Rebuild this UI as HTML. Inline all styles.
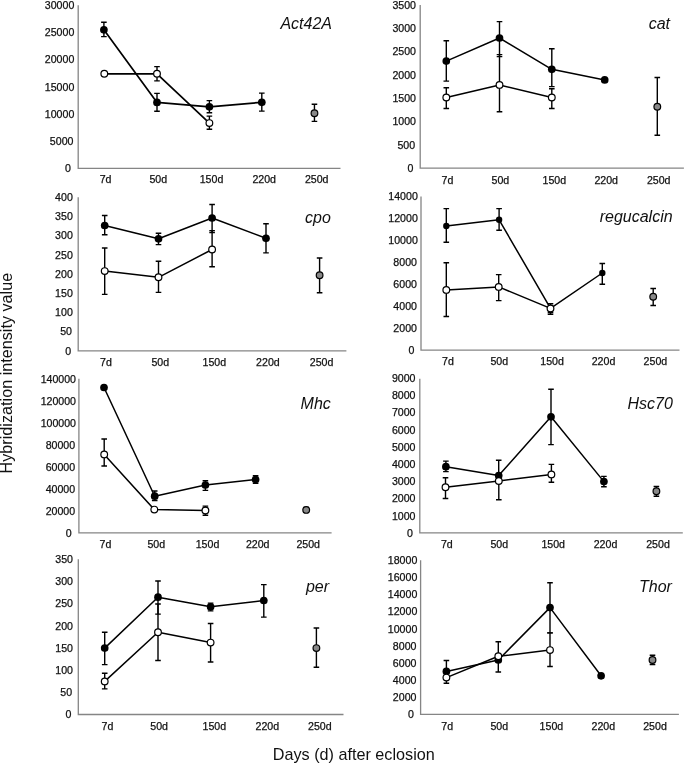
<!DOCTYPE html>
<html><head><meta charset="utf-8"><style>
html,body{margin:0;padding:0;background:#fff;}
svg{display:block;will-change:transform;}
text{font-family:"Liberation Sans",sans-serif;fill:#111;}
.t{font-size:10.6px;stroke:#111;stroke-width:0.25px;}
.g{font-size:16px;font-style:italic;}
.ti{font-size:16.2px;}
</style></head><body>
<svg width="685" height="765" viewBox="0 0 685 765">
<rect width="685" height="765" fill="#fff"/>
<g><path d="M78.2 5.3V168.4H340.5" fill="none" stroke="#858585" stroke-width="1.3"/><text class="t" x="74.3" y="9.06" text-anchor="end">30000</text><text class="t" x="74.3" y="36.25" text-anchor="end">25000</text><text class="t" x="74.3" y="63.43" text-anchor="end">20000</text><text class="t" x="74.3" y="90.61" text-anchor="end">15000</text><text class="t" x="74.3" y="117.8" text-anchor="end">10000</text><text class="t" x="73.45" y="144.98" text-anchor="end">5000</text><text class="t" x="70.9" y="172.16" text-anchor="end">0</text><text class="t" x="105.6" y="183.1" text-anchor="middle">7d</text><text class="t" x="158.3" y="183.1" text-anchor="middle">50d</text><text class="t" x="211.5" y="183.1" text-anchor="middle">150d</text><text class="t" x="264.2" y="183.1" text-anchor="middle">220d</text><text class="t" x="316.7" y="183.1" text-anchor="middle">250d</text><polyline points="103.9,29.8 157,102.4 209.4,106.8 261.8,102.3" fill="none" stroke="#000" stroke-width="1.7" stroke-linejoin="round"/><path d="M103.9 29.8V22.3M101.1 22.3h5.6M103.9 29.8V36.6M101.1 36.6h5.6M157 102.4V93.4M154.2 93.4h5.6M157 102.4V111.2M154.2 111.2h5.6M209.4 106.8V100.6M206.6 100.6h5.6M209.4 106.8V112.8M206.6 112.8h5.6M261.8 102.3V93.1M259 93.1h5.6M261.8 102.3V111.1M259 111.1h5.6" fill="none" stroke="#000" stroke-width="1.4"/><circle cx="103.9" cy="29.8" r="3.85" fill="#000"/><circle cx="157" cy="102.4" r="3.85" fill="#000"/><circle cx="209.4" cy="106.8" r="3.85" fill="#000"/><circle cx="261.8" cy="102.3" r="3.85" fill="#000"/><polyline points="104.3,73.8 157,73.8 209.4,123.1" fill="none" stroke="#000" stroke-width="1.7" stroke-linejoin="round"/><path d="M157 73.8V66.6M154.2 66.6h5.6M157 73.8V80.9M154.2 80.9h5.6M209.4 123.1V116.1M206.6 116.1h5.6M209.4 123.1V129.3M206.6 129.3h5.6" fill="none" stroke="#000" stroke-width="1.4"/><circle cx="104.3" cy="73.8" r="3.35" fill="#fff" stroke="#000" stroke-width="1.2"/><circle cx="157" cy="73.8" r="3.35" fill="#fff" stroke="#000" stroke-width="1.2"/><circle cx="209.4" cy="123.1" r="3.35" fill="#fff" stroke="#000" stroke-width="1.2"/><path d="M314.45 113.2V104.2M311.65 104.2h5.6M314.45 113.2V121.4M311.65 121.4h5.6" fill="none" stroke="#000" stroke-width="1.4"/><circle cx="314.45" cy="113.2" r="3.35" fill="#888" stroke="#000" stroke-width="1.2"/><text class="g" x="332" y="28.8" text-anchor="end">Act42A</text></g>
<g><path d="M420.2 4.9V168.2H683.9" fill="none" stroke="#858585" stroke-width="1.3"/><text class="t" x="416" y="8.66" text-anchor="end">3500</text><text class="t" x="416" y="31.99" text-anchor="end">3000</text><text class="t" x="416" y="55.32" text-anchor="end">2500</text><text class="t" x="416" y="78.65" text-anchor="end">2000</text><text class="t" x="416" y="101.98" text-anchor="end">1500</text><text class="t" x="416" y="125.31" text-anchor="end">1000</text><text class="t" x="415.15" y="148.63" text-anchor="end">500</text><text class="t" x="413.45" y="171.96" text-anchor="end">0</text><text class="t" x="447.4" y="183.5" text-anchor="middle">7d</text><text class="t" x="500.4" y="183.5" text-anchor="middle">50d</text><text class="t" x="554.3" y="183.5" text-anchor="middle">150d</text><text class="t" x="606.2" y="183.5" text-anchor="middle">220d</text><text class="t" x="658.7" y="183.5" text-anchor="middle">250d</text><polyline points="446.3,61.1 499.5,38 551.8,69.3 604.7,79.9" fill="none" stroke="#000" stroke-width="1.5" stroke-linejoin="round"/><path d="M446.3 61.1V40.7M443.5 40.7h5.6M446.3 61.1V81.1M443.5 81.1h5.6M499.5 38V21.6M496.7 21.6h5.6M499.5 38V56.6M496.7 56.6h5.6M551.8 69.3V48.8M549 48.8h5.6M551.8 69.3V86.6M549 86.6h5.6" fill="none" stroke="#000" stroke-width="1.4"/><circle cx="446.3" cy="61.1" r="3.85" fill="#000"/><circle cx="499.5" cy="38" r="3.85" fill="#000"/><circle cx="551.8" cy="69.3" r="3.85" fill="#000"/><circle cx="604.7" cy="79.9" r="3.85" fill="#000"/><polyline points="446.3,97.5 499.5,84.9 551.8,97.5" fill="none" stroke="#000" stroke-width="1.5" stroke-linejoin="round"/><path d="M446.3 97.5V87.7M443.5 87.7h5.6M446.3 97.5V108.5M443.5 108.5h5.6M499.5 84.9V54.6M496.7 54.6h5.6M499.5 84.9V111.8M496.7 111.8h5.6M551.8 97.5V88.7M549 88.7h5.6M551.8 97.5V108.5M549 108.5h5.6" fill="none" stroke="#000" stroke-width="1.4"/><circle cx="446.3" cy="97.5" r="3.35" fill="#fff" stroke="#000" stroke-width="1.2"/><circle cx="499.5" cy="84.9" r="3.35" fill="#fff" stroke="#000" stroke-width="1.2"/><circle cx="551.8" cy="97.5" r="3.35" fill="#fff" stroke="#000" stroke-width="1.2"/><path d="M657.3 106.7V77.5M654.5 77.5h5.6M657.3 106.7V135.2M654.5 135.2h5.6" fill="none" stroke="#000" stroke-width="1.4"/><circle cx="657.3" cy="106.7" r="3.35" fill="#888" stroke="#000" stroke-width="1.2"/><text class="g" x="670" y="28.8" text-anchor="end">cat</text></g>
<g><path d="M78.2 197.3V350.9H346.4" fill="none" stroke="#858585" stroke-width="1.3"/><text class="t" x="72.8" y="201.06" text-anchor="end">400</text><text class="t" x="72.8" y="220.26" text-anchor="end">350</text><text class="t" x="72.8" y="239.46" text-anchor="end">300</text><text class="t" x="72.8" y="258.66" text-anchor="end">250</text><text class="t" x="72.8" y="277.86" text-anchor="end">200</text><text class="t" x="72.8" y="297.06" text-anchor="end">150</text><text class="t" x="72.8" y="316.26" text-anchor="end">100</text><text class="t" x="71.95" y="335.46" text-anchor="end">50</text><text class="t" x="71.1" y="354.66" text-anchor="end">0</text><text class="t" x="106" y="366.4" text-anchor="middle">7d</text><text class="t" x="160.3" y="366.4" text-anchor="middle">50d</text><text class="t" x="214.3" y="366.4" text-anchor="middle">150d</text><text class="t" x="267.9" y="366.4" text-anchor="middle">220d</text><text class="t" x="321.6" y="366.4" text-anchor="middle">250d</text><polyline points="104.7,225.5 158.5,238.8 212.1,218 266,238.3" fill="none" stroke="#000" stroke-width="1.5" stroke-linejoin="round"/><path d="M104.7 225.5V215.5M101.9 215.5h5.6M104.7 225.5V234.7M101.9 234.7h5.6M158.5 238.8V233.3M155.7 233.3h5.6M158.5 238.8V244.6M155.7 244.6h5.6M212.1 218V204.5M209.3 204.5h5.6M212.1 218V232.5M209.3 232.5h5.6M266 238.3V223.7M263.2 223.7h5.6M266 238.3V252.9M263.2 252.9h5.6" fill="none" stroke="#000" stroke-width="1.4"/><circle cx="104.7" cy="225.5" r="3.85" fill="#000"/><circle cx="158.5" cy="238.8" r="3.85" fill="#000"/><circle cx="212.1" cy="218" r="3.85" fill="#000"/><circle cx="266" cy="238.3" r="3.85" fill="#000"/><polyline points="104.7,271.1 158.5,277.3 212.1,249.5" fill="none" stroke="#000" stroke-width="1.5" stroke-linejoin="round"/><path d="M104.7 271.1V248M101.9 248h5.6M104.7 271.1V294.4M101.9 294.4h5.6M158.5 277.3V261.3M155.7 261.3h5.6M158.5 277.3V292.4M155.7 292.4h5.6M212.1 249.5V230.6M209.3 230.6h5.6M212.1 249.5V266.8M209.3 266.8h5.6" fill="none" stroke="#000" stroke-width="1.4"/><circle cx="104.7" cy="271.1" r="3.35" fill="#fff" stroke="#000" stroke-width="1.2"/><circle cx="158.5" cy="277.3" r="3.35" fill="#fff" stroke="#000" stroke-width="1.2"/><circle cx="212.1" cy="249.5" r="3.35" fill="#fff" stroke="#000" stroke-width="1.2"/><path d="M319.6 275.2V258M316.8 258h5.6M319.6 275.2V292.7M316.8 292.7h5.6" fill="none" stroke="#000" stroke-width="1.4"/><circle cx="319.6" cy="275.2" r="3.35" fill="#888" stroke="#000" stroke-width="1.2"/><text class="g" x="330.8" y="222.8" text-anchor="end">cpo</text></g>
<g><path d="M421 196.6V350.2H679.5" fill="none" stroke="#858585" stroke-width="1.3"/><text class="t" x="417.8" y="200.36" text-anchor="end">14000</text><text class="t" x="417.8" y="222.31" text-anchor="end">12000</text><text class="t" x="417.8" y="244.25" text-anchor="end">10000</text><text class="t" x="416.95" y="266.19" text-anchor="end">8000</text><text class="t" x="416.95" y="288.13" text-anchor="end">6000</text><text class="t" x="416.95" y="310.08" text-anchor="end">4000</text><text class="t" x="416.95" y="332.02" text-anchor="end">2000</text><text class="t" x="414.4" y="353.96" text-anchor="end">0</text><text class="t" x="447.9" y="364.9" text-anchor="middle">7d</text><text class="t" x="499.3" y="364.9" text-anchor="middle">50d</text><text class="t" x="552.1" y="364.9" text-anchor="middle">150d</text><text class="t" x="603.5" y="364.9" text-anchor="middle">220d</text><text class="t" x="655.4" y="364.9" text-anchor="middle">250d</text><polyline points="446.3,226 499.1,219.8 550.5,308.4 602.3,273" fill="none" stroke="#000" stroke-width="1.5" stroke-linejoin="round"/><path d="M446.3 226V208.6M443.5 208.6h5.6M446.3 226V242.3M443.5 242.3h5.6M499.1 219.8V208.6M496.3 208.6h5.6M499.1 219.8V230.2M496.3 230.2h5.6M550.5 308.4V303.7M547.7 303.7h5.6M550.5 308.4V312.5M547.7 312.5h5.6M602.3 273V263.5M599.5 263.5h5.6M602.3 273V284.3M599.5 284.3h5.6" fill="none" stroke="#000" stroke-width="1.4"/><circle cx="446.3" cy="226" r="3.2" fill="#000"/><circle cx="499.1" cy="219.8" r="3.2" fill="#000"/><circle cx="550.5" cy="308.4" r="3.2" fill="#000"/><circle cx="602.3" cy="273" r="3.2" fill="#000"/><polyline points="446.3,289.9 498.7,286.9 550.5,308.4" fill="none" stroke="#000" stroke-width="1.5" stroke-linejoin="round"/><path d="M446.3 289.9V262.7M443.5 262.7h5.6M446.3 289.9V316.5M443.5 316.5h5.6M498.7 286.9V274.6M495.9 274.6h5.6M498.7 286.9V300.6M495.9 300.6h5.6M550.5 308.4V314.3M547.7 314.3h5.6" fill="none" stroke="#000" stroke-width="1.4"/><circle cx="446.3" cy="289.9" r="3.35" fill="#fff" stroke="#000" stroke-width="1.2"/><circle cx="498.7" cy="286.9" r="3.35" fill="#fff" stroke="#000" stroke-width="1.2"/><circle cx="550.5" cy="308.4" r="3.35" fill="#fff" stroke="#000" stroke-width="1.2"/><path d="M653.2 296.7V288.5M650.4 288.5h5.6M653.2 296.7V305.5M650.4 305.5h5.6" fill="none" stroke="#000" stroke-width="1.4"/><circle cx="653.2" cy="296.7" r="3.35" fill="#888" stroke="#000" stroke-width="1.2"/><text class="g" x="672.6" y="222.3" text-anchor="end">regucalcin</text></g>
<g><path d="M78.9 378.8V532.8H331.6" fill="none" stroke="#858585" stroke-width="1.3"/><text class="t" x="76" y="382.56" text-anchor="end">140000</text><text class="t" x="76" y="404.56" text-anchor="end">120000</text><text class="t" x="76" y="426.56" text-anchor="end">100000</text><text class="t" x="75.15" y="448.56" text-anchor="end">80000</text><text class="t" x="75.15" y="470.56" text-anchor="end">60000</text><text class="t" x="75.15" y="492.56" text-anchor="end">40000</text><text class="t" x="75.15" y="514.56" text-anchor="end">20000</text><text class="t" x="71.75" y="536.56" text-anchor="end">0</text><text class="t" x="105.4" y="548.2" text-anchor="middle">7d</text><text class="t" x="156.3" y="548.2" text-anchor="middle">50d</text><text class="t" x="207.5" y="548.2" text-anchor="middle">150d</text><text class="t" x="257.7" y="548.2" text-anchor="middle">220d</text><text class="t" x="308.2" y="548.2" text-anchor="middle">250d</text><polyline points="104,387.5 154.7,496.2 205.4,485 255.6,479.6" fill="none" stroke="#000" stroke-width="1.5" stroke-linejoin="round"/><path d="M154.7 496.2V491M151.9 491h5.6M154.7 496.2V500.5M151.9 500.5h5.6M205.4 485V480.7M202.6 480.7h5.6M205.4 485V490.4M202.6 490.4h5.6M255.6 479.6V475.8M252.8 475.8h5.6M255.6 479.6V483.4M252.8 483.4h5.6" fill="none" stroke="#000" stroke-width="1.4"/><circle cx="104" cy="387.5" r="3.85" fill="#000"/><circle cx="154.7" cy="496.2" r="3.85" fill="#000"/><circle cx="205.4" cy="485" r="3.85" fill="#000"/><circle cx="255.6" cy="479.6" r="3.85" fill="#000"/><polyline points="104.2,454.4 154.3,509.6 205.4,510.5" fill="none" stroke="#000" stroke-width="1.5" stroke-linejoin="round"/><path d="M104.2 454.4V439M101.4 439h5.6M104.2 454.4V466M101.4 466h5.6M205.4 510.5V506.1M202.6 506.1h5.6M205.4 510.5V515.2M202.6 515.2h5.6" fill="none" stroke="#000" stroke-width="1.4"/><circle cx="104.2" cy="454.4" r="3.35" fill="#fff" stroke="#000" stroke-width="1.2"/><circle cx="154.3" cy="509.6" r="3.35" fill="#fff" stroke="#000" stroke-width="1.2"/><circle cx="205.4" cy="510.5" r="3.35" fill="#fff" stroke="#000" stroke-width="1.2"/><path d="M306.2 509.9V507.4M303.4 507.4h5.6M306.2 509.9V512.4M303.4 512.4h5.6" fill="none" stroke="#000" stroke-width="1.4"/><circle cx="306.2" cy="509.9" r="3.35" fill="#888" stroke="#000" stroke-width="1.2"/><text class="g" x="330.8" y="408.7" text-anchor="end">Mhc</text></g>
<g><path d="M419.8 378.8V532.8H682.8" fill="none" stroke="#858585" stroke-width="1.3"/><text class="t" x="415.5" y="381.96" text-anchor="end">9000</text><text class="t" x="415.5" y="399.17" text-anchor="end">8000</text><text class="t" x="415.5" y="416.39" text-anchor="end">7000</text><text class="t" x="415.5" y="433.6" text-anchor="end">6000</text><text class="t" x="415.5" y="450.81" text-anchor="end">5000</text><text class="t" x="415.5" y="468.02" text-anchor="end">4000</text><text class="t" x="415.5" y="485.23" text-anchor="end">3000</text><text class="t" x="415.5" y="502.44" text-anchor="end">2000</text><text class="t" x="415.5" y="519.65" text-anchor="end">1000</text><text class="t" x="412.95" y="536.86" text-anchor="end">0</text><text class="t" x="446.8" y="548.2" text-anchor="middle">7d</text><text class="t" x="499.3" y="548.2" text-anchor="middle">50d</text><text class="t" x="553.2" y="548.2" text-anchor="middle">150d</text><text class="t" x="605.5" y="548.2" text-anchor="middle">220d</text><text class="t" x="658" y="548.2" text-anchor="middle">250d</text><polyline points="445.9,466.7 498.7,475.5 551,416.8 603.9,481.6" fill="none" stroke="#000" stroke-width="1.5" stroke-linejoin="round"/><path d="M445.9 466.7V461.1M443.1 461.1h5.6M445.9 466.7V471.6M443.1 471.6h5.6M498.7 475.5V460.2M495.9 460.2h5.6M551 416.8V389.2M548.2 389.2h5.6M551 416.8V444.6M548.2 444.6h5.6M603.9 481.6V476.4M601.1 476.4h5.6M603.9 481.6V486.7M601.1 486.7h5.6" fill="none" stroke="#000" stroke-width="1.4"/><circle cx="445.9" cy="466.7" r="3.85" fill="#000"/><circle cx="498.7" cy="475.5" r="3.85" fill="#000"/><circle cx="551" cy="416.8" r="3.85" fill="#000"/><circle cx="603.9" cy="481.6" r="3.85" fill="#000"/><polyline points="445.5,487.3 498.8,481 551.4,474.4" fill="none" stroke="#000" stroke-width="1.5" stroke-linejoin="round"/><path d="M445.5 487.3V477.7M442.7 477.7h5.6M445.5 487.3V498.5M442.7 498.5h5.6M498.8 481V499.8M496 499.8h5.6M551.4 474.4V464.4M548.6 464.4h5.6M551.4 474.4V482.2M548.6 482.2h5.6" fill="none" stroke="#000" stroke-width="1.4"/><circle cx="445.5" cy="487.3" r="3.35" fill="#fff" stroke="#000" stroke-width="1.2"/><circle cx="498.8" cy="481" r="3.35" fill="#fff" stroke="#000" stroke-width="1.2"/><circle cx="551.4" cy="474.4" r="3.35" fill="#fff" stroke="#000" stroke-width="1.2"/><path d="M656.4 491.3V486.5M653.6 486.5h5.6M656.4 491.3V496.2M653.6 496.2h5.6" fill="none" stroke="#000" stroke-width="1.4"/><circle cx="656.4" cy="491.3" r="3.35" fill="#888" stroke="#000" stroke-width="1.2"/><text class="g" x="672.9" y="408.9" text-anchor="end">Hsc70</text></g>
<g><path d="M78.3 559.3V714.5H343.5" fill="none" stroke="#858585" stroke-width="1.3"/><text class="t" x="73" y="563.06" text-anchor="end">350</text><text class="t" x="73" y="585.23" text-anchor="end">300</text><text class="t" x="73" y="607.41" text-anchor="end">250</text><text class="t" x="73" y="629.58" text-anchor="end">200</text><text class="t" x="73" y="651.75" text-anchor="end">150</text><text class="t" x="73" y="673.92" text-anchor="end">100</text><text class="t" x="72.15" y="696.09" text-anchor="end">50</text><text class="t" x="71.3" y="718.26" text-anchor="end">0</text><text class="t" x="107.4" y="729.9" text-anchor="middle">7d</text><text class="t" x="159.1" y="729.9" text-anchor="middle">50d</text><text class="t" x="214.3" y="729.9" text-anchor="middle">150d</text><text class="t" x="267.3" y="729.9" text-anchor="middle">220d</text><text class="t" x="319.8" y="729.9" text-anchor="middle">250d</text><polyline points="104.7,648.1 158,597.2 210.6,606.8 263.8,600.5" fill="none" stroke="#000" stroke-width="1.5" stroke-linejoin="round"/><path d="M104.7 648.1V632.3M101.9 632.3h5.6M104.7 648.1V664.6M101.9 664.6h5.6M158 597.2V581M155.2 581h5.6M158 597.2V614.1M155.2 614.1h5.6M210.6 606.8V603.1M207.8 603.1h5.6M210.6 606.8V610.9M207.8 610.9h5.6M263.8 600.5V584.6M261 584.6h5.6M263.8 600.5V617.1M261 617.1h5.6" fill="none" stroke="#000" stroke-width="1.4"/><circle cx="104.7" cy="648.1" r="3.85" fill="#000"/><circle cx="158" cy="597.2" r="3.85" fill="#000"/><circle cx="210.6" cy="606.8" r="3.85" fill="#000"/><circle cx="263.8" cy="600.5" r="3.85" fill="#000"/><polyline points="104.7,681.4 158,632.3 210.6,642.6" fill="none" stroke="#000" stroke-width="1.5" stroke-linejoin="round"/><path d="M104.7 681.4V673.2M101.9 673.2h5.6M104.7 681.4V688.9M101.9 688.9h5.6M158 632.3V604M155.2 604h5.6M158 632.3V660.5M155.2 660.5h5.6M210.6 642.6V623.5M207.8 623.5h5.6M210.6 642.6V662M207.8 662h5.6" fill="none" stroke="#000" stroke-width="1.4"/><circle cx="104.7" cy="681.4" r="3.35" fill="#fff" stroke="#000" stroke-width="1.2"/><circle cx="158" cy="632.3" r="3.35" fill="#fff" stroke="#000" stroke-width="1.2"/><circle cx="210.6" cy="642.6" r="3.35" fill="#fff" stroke="#000" stroke-width="1.2"/><path d="M316.4 648.1V628M313.6 628h5.6M316.4 648.1V667.3M313.6 667.3h5.6" fill="none" stroke="#000" stroke-width="1.4"/><circle cx="316.4" cy="648.1" r="3.35" fill="#888" stroke="#000" stroke-width="1.2"/><text class="g" x="329.1" y="591.5" text-anchor="end">per</text></g>
<g><path d="M420.6 560.2V714.4H678.9" fill="none" stroke="#858585" stroke-width="1.3"/><text class="t" x="417.3" y="563.96" text-anchor="end">18000</text><text class="t" x="417.3" y="581.1" text-anchor="end">16000</text><text class="t" x="417.3" y="598.23" text-anchor="end">14000</text><text class="t" x="417.3" y="615.36" text-anchor="end">12000</text><text class="t" x="417.3" y="632.5" text-anchor="end">10000</text><text class="t" x="416.45" y="649.63" text-anchor="end">8000</text><text class="t" x="416.45" y="666.76" text-anchor="end">6000</text><text class="t" x="416.45" y="683.9" text-anchor="end">4000</text><text class="t" x="416.45" y="701.03" text-anchor="end">2000</text><text class="t" x="413.9" y="718.16" text-anchor="end">0</text><text class="t" x="447.2" y="729.9" text-anchor="middle">7d</text><text class="t" x="499.3" y="729.9" text-anchor="middle">50d</text><text class="t" x="551.4" y="729.9" text-anchor="middle">150d</text><text class="t" x="603.3" y="729.9" text-anchor="middle">220d</text><text class="t" x="655" y="729.9" text-anchor="middle">250d</text><polyline points="446.4,671.4 498.3,660 550,607.6 601.1,675.8" fill="none" stroke="#000" stroke-width="1.5" stroke-linejoin="round"/><path d="M446.4 671.4V660.5M443.6 660.5h5.6M498.3 660V672M495.5 672h5.6M550 607.6V582.7M547.2 582.7h5.6M550 607.6V632.9M547.2 632.9h5.6" fill="none" stroke="#000" stroke-width="1.4"/><circle cx="446.4" cy="671.4" r="3.85" fill="#000"/><circle cx="498.3" cy="660" r="3.85" fill="#000"/><circle cx="550" cy="607.6" r="3.85" fill="#000"/><circle cx="601.1" cy="675.8" r="3.85" fill="#000"/><polyline points="446.4,677.6 498.3,656.3 550,650.1" fill="none" stroke="#000" stroke-width="1.5" stroke-linejoin="round"/><path d="M446.4 677.6V683.2M443.6 683.2h5.6M498.3 656.3V641.8M495.5 641.8h5.6M550 650.1V632.9M547.2 632.9h5.6M550 650.1V666.5M547.2 666.5h5.6" fill="none" stroke="#000" stroke-width="1.4"/><circle cx="446.4" cy="677.6" r="3.35" fill="#fff" stroke="#000" stroke-width="1.2"/><circle cx="498.3" cy="656.3" r="3.35" fill="#fff" stroke="#000" stroke-width="1.2"/><circle cx="550" cy="650.1" r="3.35" fill="#fff" stroke="#000" stroke-width="1.2"/><path d="M652.5 660V655.2M649.7 655.2h5.6M652.5 660V664.5M649.7 664.5h5.6" fill="none" stroke="#000" stroke-width="1.4"/><circle cx="652.5" cy="660" r="3.35" fill="#888" stroke="#000" stroke-width="1.2"/><text class="g" x="671.9" y="591.5" text-anchor="end">Thor</text></g>
<text class="ti" transform="translate(12.2 373.1) rotate(-90)" text-anchor="middle">Hybridization intensity value</text>
<text class="ti" x="272.8" y="759.8">Days (d) after eclosion</text>
</svg>
</body></html>
